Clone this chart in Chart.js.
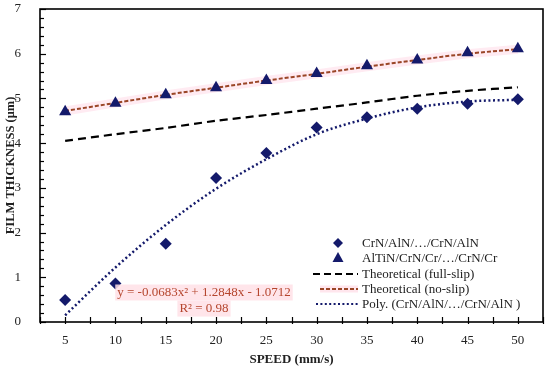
<!DOCTYPE html>
<html>
<head>
<meta charset="utf-8">
<script src="https://cdn.jsdelivr.net/npm/chart.js@4.4.1/dist/chart.umd.min.js"></script>
<style>
  html, body { margin: 0; padding: 0; background: #ffffff; }
  #wrap { width: 550px; height: 369px; position: relative; }
</style>
</head>
<body>
<div id="wrap"><canvas id="c" width="550" height="369"></canvas></div>
<script>
// ---- data ----
const speeds   = [5, 10, 15, 20, 25, 30, 35, 40, 45, 50];
const crnAln   = [0.49, 0.86, 1.75, 3.22, 3.78, 4.35, 4.58, 4.77, 4.88, 4.98];
const altin    = [4.70, 4.89, 5.08, 5.24, 5.40, 5.56, 5.73, 5.86, 6.02, 6.11];
const fullSlip = [4.05, 4.20, 4.34, 4.50, 4.63, 4.77, 4.91, 5.06, 5.17, 5.25];
const noSlip   = [4.72, 4.90, 5.08, 5.24, 5.40, 5.55, 5.71, 5.86, 6.00, 6.10];
const polyFit  = [0.15, 1.22, 2.17, 2.98, 3.64, 4.20, 4.55, 4.80, 4.93, 4.97];
const xTickValues = [5, 10, 15, 20, 25, 30, 35, 40, 45, 50];
const yTickValues = [0, 1, 2, 3, 4, 5, 6, 7];
const seriesLabels = [
  "CrN/AlN/\u2026/CrN/AlN",
  "AlTiN/CrN/Cr/\u2026/CrN/Cr",
  "Theoretical (full-slip)",
  "Theoretical (no-slip)",
  "Poly. (CrN/AlN/\u2026/CrN/AlN )"
];
const equationLines = ["y = -0.0683x\u00B2 + 1.2848x - 1.0712", "R\u00B2 = 0.98"];
const xTitle = "SPEED (mm/s)";
const yTitle = "FILM THICKNESS (\u03BCm)";

const pts = arr => speeds.map((s, i) => ({ x: s, y: arr[i] }));
const FONT = "'Liberation Serif', 'Times New Roman', serif";
const NAVY = '#141a6b';
const BROWN = '#9a4526';
const EQ = '#b5452d';

const framePlugin = {
  id: 'frame',
  afterDatasetsDraw(chart) {
    const { ctx, chartArea: a, scales } = chart;
    ctx.save();
    ctx.strokeStyle = '#000';
    ctx.lineWidth = 1.6;
    ctx.strokeRect(a.left, a.top, a.right - a.left, a.bottom - a.top);
    ctx.lineWidth = 1.2;
    const ys = scales.y;
    for (let v = 0; v <= 7.0001; v += 0.2) {
      const py = Math.round(ys.getPixelForValue(v)) + 0.5;
      const major = Math.abs(v - Math.round(v)) < 1e-6;
      ctx.beginPath();
      ctx.moveTo(a.left, py);
      ctx.lineTo(a.left + (major ? 6 : 4), py);
      ctx.stroke();
    }
    const xs = scales.x;
    for (let v = 2.5; v <= 52.5001; v += 2.5) {
      const px = Math.round(xs.getPixelForValue(v)) + 0.5;
      ctx.beginPath();
      ctx.moveTo(px, a.bottom + 2);
      ctx.lineTo(px, a.bottom - 5);
      ctx.stroke();
    }
    ctx.restore();
  }
};

const annotPlugin = {
  id: 'annot',
  afterDraw(chart) {
    const { ctx, scales } = chart;
    ctx.save();
    ctx.font = '13px ' + FONT;
    ctx.textAlign = 'center';
    ctx.textBaseline = 'middle';
    const cx = scales.x.getPixelForValue(18.8);
    const y1 = scales.y.getPixelForValue(0.66);
    const y2 = scales.y.getPixelForValue(0.30);
    equationLines.forEach((t, i) => {
      const w = ctx.measureText(t).width;
      const yy = i === 0 ? y1 : y2;
      ctx.fillStyle = 'rgba(255,225,230,0.85)';
      ctx.fillRect(cx - w / 2 - 2, yy - 8, w + 4, 16);
      ctx.fillStyle = EQ;
      ctx.fillText(t, cx, yy);
    });

    const rows = [243, 258, 274, 289, 304];
    const tx = 362;
    ctx.textAlign = 'left';
    rows.forEach((ry, i) => {
      ctx.fillStyle = '#222';
      ctx.fillText(seriesLabels[i], tx, ry + 1);
    });
    ctx.fillStyle = NAVY;
    ctx.beginPath();
    ctx.moveTo(338, rows[0] - 5); ctx.lineTo(343, rows[0]); ctx.lineTo(338, rows[0] + 5); ctx.lineTo(333, rows[0]);
    ctx.closePath(); ctx.fill();
    ctx.beginPath();
    ctx.moveTo(338, rows[1] - 6); ctx.lineTo(343.5, rows[1] + 4); ctx.lineTo(332.5, rows[1] + 4);
    ctx.closePath(); ctx.fill();
    ctx.lineWidth = 2;
    ctx.strokeStyle = '#000';
    ctx.setLineDash([7, 4]);
    ctx.beginPath(); ctx.moveTo(313, rows[2]); ctx.lineTo(358, rows[2]); ctx.stroke();
    ctx.strokeStyle = 'rgba(255,205,220,0.5)';
    ctx.lineWidth = 7;
    ctx.setLineDash([]);
    ctx.beginPath(); ctx.moveTo(320, rows[3]); ctx.lineTo(358, rows[3]); ctx.stroke();
    ctx.strokeStyle = BROWN;
    ctx.lineWidth = 1.8;
    ctx.setLineDash([4, 2]);
    ctx.beginPath(); ctx.moveTo(320, rows[3]); ctx.lineTo(358, rows[3]); ctx.stroke();
    ctx.strokeStyle = NAVY;
    ctx.lineWidth = 2.2;
    ctx.setLineDash([2, 2.4]);
    ctx.beginPath(); ctx.moveTo(316, rows[4]); ctx.lineTo(358, rows[4]); ctx.stroke();
    ctx.restore();
  }
};

new Chart(document.getElementById('c'), {
  type: 'line',
  data: {
    datasets: [
      { label: 'glow', data: pts(noSlip), borderColor: 'rgba(255,205,222,0.4)', borderWidth: 9,
        pointRadius: 0, fill: false, tension: 0, order: 10 },
      { label: seriesLabels[3], data: pts(noSlip), borderColor: BROWN, borderWidth: 2,
        borderDash: [4, 2], pointRadius: 0, fill: false, tension: 0.3, order: 5 },
      { label: seriesLabels[2], data: pts(fullSlip), borderColor: '#000', borderWidth: 2.2,
        borderDash: [8, 5], pointRadius: 0, fill: false, tension: 0.3, order: 4 },
      { label: seriesLabels[4], data: pts(polyFit), borderColor: NAVY, borderWidth: 2.5,
        borderDash: [2, 2.6], pointRadius: 0, fill: false, cubicInterpolationMode: 'monotone', order: 3 },
      { label: seriesLabels[0], data: pts(crnAln), showLine: false, pointStyle: 'rectRot',
        pointRadius: 6, backgroundColor: NAVY, borderColor: NAVY, borderWidth: 0, order: 1 },
      { label: seriesLabels[1], data: pts(altin), showLine: false, pointStyle: 'triangle',
        pointRadius: 7, backgroundColor: NAVY, borderColor: NAVY, borderWidth: 0, order: 0 }
    ]
  },
  options: {
    responsive: false,
    animation: false,
    layout: { padding: { top: 9, right: 7, left: 0, bottom: 0 } },
    plugins: { legend: { display: false }, tooltip: { enabled: false } },
    scales: {
      x: {
        type: 'linear', min: 2.5, max: 52.5,
        afterBuildTicks: s => { s.ticks = xTickValues.map(v => ({ value: v })); },
        afterFit: s => { s.height = 47; s.paddingLeft = 0; s.paddingRight = 0; },
        grid: { display: false }, border: { display: false },
        ticks: { font: { family: FONT, size: 13 }, color: '#222', padding: 3, maxRotation: 0, autoSkip: false },
        title: { display: true, text: xTitle, font: { family: FONT, size: 13, weight: 'bold' }, color: '#222',
                 padding: { top: 0, bottom: 2 } }
      },
      y: {
        type: 'linear', min: 0, max: 7,
        afterBuildTicks: s => { s.ticks = yTickValues.map(v => ({ value: v })); },
        afterFit: s => { s.width = 40; s.paddingTop = 0; s.paddingBottom = 0; },
        grid: { display: false }, border: { display: false },
        ticks: { font: { family: FONT, size: 13 }, color: '#222', padding: 11 },
        title: { display: true, text: yTitle, font: { family: FONT, size: 12.5, weight: 'bold' }, color: '#222',
                 padding: { top: 3, bottom: 0 } }
      }
    }
  },
  plugins: [framePlugin, annotPlugin]
});
</script>
</body>
</html>
